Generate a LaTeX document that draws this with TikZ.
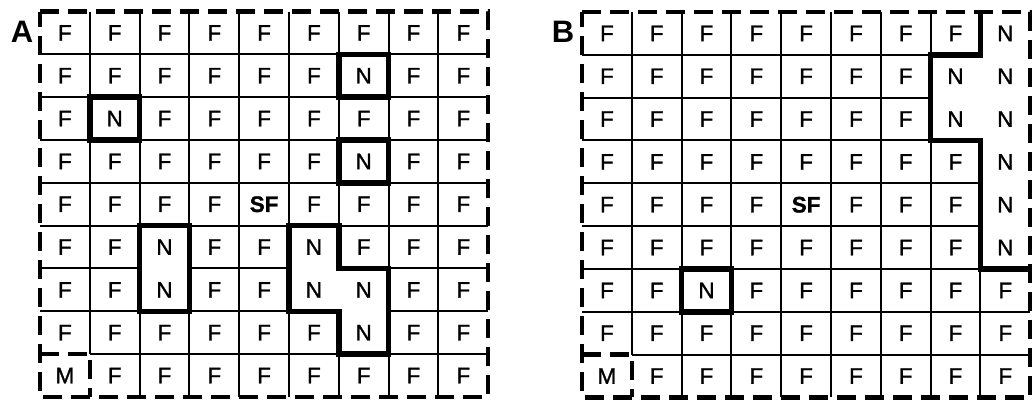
\documentclass[tikz,border=0pt]{standalone}
\usepackage{fontspec}
\setmainfont{Liberation Sans}
\newfontfamily\cellfont[FakeBold=1.2]{Liberation Sans}
\newcommand\cellw{49.8}
\newcommand\cellh{42.83}
\tikzset{
  gridline/.style={line width=2pt},
  nbox/.style={line width=5.5pt, line join=miter, fill=white},
  nline/.style={line width=5.5pt, line join=miter},
  border/.style={line width=4.5pt, dash pattern=on 19pt off 9pt},
  cell/.style={font=\cellfont\fontsize{22.5}{23}\selectfont, inner sep=0pt},
  panel/.style={font=\fontsize{31}{32}\selectfont\bfseries, inner sep=0pt}
}
\newcommand\gridlines{%
  \foreach \c in {2,...,8} \draw[gridline] (\c*\cellw,0) -- (\c*\cellw,9*\cellh);
  \draw[gridline] (\cellw,0) -- (\cellw,8*\cellh);
  \foreach \r in {1,...,7} \draw[gridline] (0,\r*\cellh) -- (9*\cellw,\r*\cellh);
  \draw[gridline] (\cellw,8*\cellh) -- (9*\cellw,8*\cellh);
}
\begin{document}
\begin{tikzpicture}[x=1pt,y=-1pt]
\useasboundingbox (0,0) rectangle (1033,405);
% ---------- Panel A ----------
\begin{scope}[shift={(40,11.5)}]
  \gridlines
  \draw[nbox] (6*\cellw,1*\cellh) rectangle (7*\cellw,2*\cellh);
  \draw[nbox] (1*\cellw,2*\cellh) rectangle (2*\cellw,3*\cellh);
  \draw[nbox] (6*\cellw,3*\cellh) rectangle (7*\cellw,4*\cellh);
  \draw[nbox] (2*\cellw,5*\cellh) rectangle (3*\cellw,7*\cellh);
  \draw[nbox] (5*\cellw,5*\cellh) -- (6*\cellw,5*\cellh) -- (6*\cellw,6*\cellh)
     -- (7*\cellw,6*\cellh) -- (7*\cellw,8*\cellh) -- (6*\cellw,8*\cellh)
     -- (6*\cellw,7*\cellh) -- (5*\cellw,7*\cellh) -- cycle;
  \draw[border] (0,8*\cellh) -- (\cellw,8*\cellh) -- (\cellw,9*\cellh);
  \draw[border] (0,0) -- (9*\cellw,0) -- (9*\cellw,9*\cellh) -- (0,9*\cellh) -- cycle;
  \foreach \row [count=\r] in {
    {F,F,F,F,F,F,F,F,F},
    {F,F,F,F,F,F,N,F,F},
    {F,N,F,F,F,F,F,F,F},
    {F,F,F,F,F,F,N,F,F},
    {F,F,F,F,\textbf{SF},F,F,F,F},
    {F,F,N,F,F,N,F,F,F},
    {F,F,N,F,F,N,N,F,F},
    {F,F,F,F,F,F,N,F,F},
    {M,F,F,F,F,F,F,F,F}}
    \foreach \lab [count=\c] in \row
      \node[cell] (A-\r-\c) at ({(\c-0.5)*\cellw},{(\r-0.5)*\cellh}) {\lab};
\end{scope}
% ---------- Panel B ----------
\begin{scope}[shift={(582,12)}]
  \gridlines
  \draw[nbox] (2*\cellw,6*\cellh) rectangle (3*\cellw,7*\cellh);
  \fill[white] (8*\cellw,0) -- (8*\cellw,1*\cellh) -- (7*\cellw,1*\cellh)
     -- (7*\cellw,3*\cellh) -- (8*\cellw,3*\cellh) -- (8*\cellw,6*\cellh)
     -- (9*\cellw,6*\cellh) -- (9*\cellw,0) -- cycle;
  \draw[nline] (8*\cellw,0) -- (8*\cellw,1*\cellh) -- (7*\cellw,1*\cellh)
     -- (7*\cellw,3*\cellh) -- (8*\cellw,3*\cellh) -- (8*\cellw,6*\cellh)
     -- (9*\cellw,6*\cellh);
  \draw[border] (0,8*\cellh) -- (\cellw,8*\cellh) -- (\cellw,9*\cellh);
  \draw[border] (0,0) -- (9*\cellw,0) -- (9*\cellw,9*\cellh) -- (0,9*\cellh) -- cycle;
  \foreach \row [count=\r] in {
    {F,F,F,F,F,F,F,F,N},
    {F,F,F,F,F,F,F,N,N},
    {F,F,F,F,F,F,F,N,N},
    {F,F,F,F,F,F,F,F,N},
    {F,F,F,F,\textbf{SF},F,F,F,N},
    {F,F,F,F,F,F,F,F,N},
    {F,F,N,F,F,F,F,F,F},
    {F,F,F,F,F,F,F,F,F},
    {M,F,F,F,F,F,F,F,F}}
    \foreach \lab [count=\c] in \row
      \node[cell] (B-\r-\c) at ({(\c-0.5)*\cellw},{(\r-0.5)*\cellh}) {\lab};
\end{scope}
\node[panel] (labA) at (22,32) {A};
\node[panel] (labB) at (563,32) {B};
\end{tikzpicture}
\end{document}
